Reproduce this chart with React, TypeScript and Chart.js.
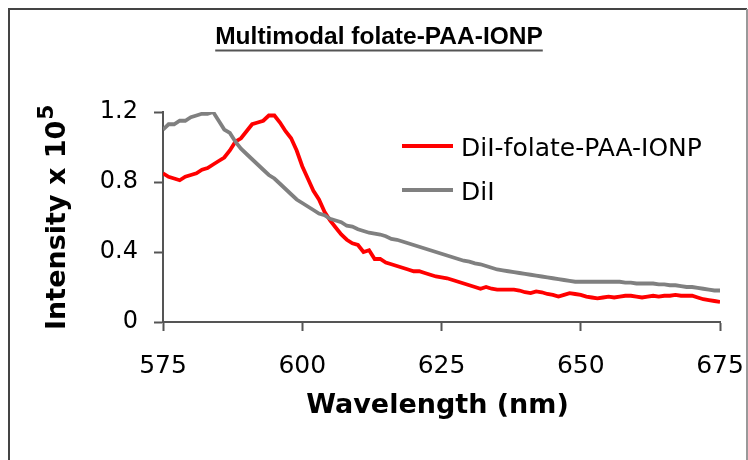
import React, { useEffect, useRef } from 'react';
import { Chart, registerables } from 'chart.js';

Chart.register(...registerables);

const chartTitle = 'Multimodal folate-PAA-IONP';
const xAxisTitle = 'Wavelength (nm)';
const yAxisTitleMain = 'Intensity x 10';
const yAxisTitleSup = '5';
const seriesNames = ['DiI-folate-PAA-IONP', 'DiI'];
const seriesColors = ['#ff0000', '#808080'];

const xTickValues = [575, 600, 625, 650, 675];
const yTickValues = [0, 0.4, 0.8, 1.2];

const wavelength = [
  575, 576, 577, 578, 579, 580, 581, 582, 583, 584,
  585, 586, 587, 588, 589, 590, 591, 592, 593, 594,
  595, 596, 597, 598, 599, 600, 601, 602, 603, 604,
  605, 606, 607, 608, 609, 610, 611, 612, 613, 614,
  615, 616, 617, 618, 619, 620, 621, 622, 623, 624,
  625, 626, 627, 628, 629, 630, 631, 632, 633, 634,
  635, 636, 637, 638, 639, 640, 641, 642, 643, 644,
  645, 646, 647, 648, 649, 650, 651, 652, 653, 654,
  655, 656, 657, 658, 659, 660, 661, 662, 663, 664,
  665, 666, 667, 668, 669, 670, 671, 672, 673, 674,
  675,
];

const dilFolatePaaIonp = [
  0.85, 0.83, 0.82, 0.81, 0.83, 0.84, 0.85, 0.87, 0.88, 0.90,
  0.92, 0.94, 0.98, 1.03, 1.05, 1.09, 1.13, 1.14, 1.15, 1.18,
  1.18, 1.14, 1.09, 1.05, 0.98, 0.89, 0.82, 0.75, 0.70, 0.63,
  0.58, 0.54, 0.50, 0.47, 0.45, 0.44, 0.40, 0.41, 0.36, 0.36,
  0.34, 0.33, 0.32, 0.31, 0.30, 0.29, 0.29, 0.28, 0.27, 0.26,
  0.255, 0.25, 0.24, 0.23, 0.22, 0.21, 0.20, 0.19, 0.20, 0.19,
  0.185, 0.185, 0.185, 0.185, 0.18, 0.17, 0.165, 0.175, 0.17, 0.16,
  0.155, 0.145, 0.155, 0.165, 0.16, 0.155, 0.145, 0.14, 0.135, 0.14,
  0.145, 0.14, 0.145, 0.15, 0.15, 0.145, 0.14, 0.145, 0.15, 0.145,
  0.15, 0.15, 0.155, 0.15, 0.15, 0.15, 0.14, 0.13, 0.125, 0.12,
  0.115,
];

const dil = [
  1.10, 1.13, 1.13, 1.15, 1.15, 1.17, 1.18, 1.19, 1.19, 1.20,
  1.15, 1.10, 1.08, 1.03, 0.99, 0.96, 0.93, 0.90, 0.87, 0.84,
  0.82, 0.79, 0.76, 0.73, 0.70, 0.68, 0.66, 0.64, 0.62, 0.61,
  0.59, 0.58, 0.57, 0.55, 0.545, 0.53, 0.52, 0.51, 0.505, 0.50,
  0.49, 0.475, 0.47, 0.46, 0.45, 0.44, 0.43, 0.42, 0.41, 0.40,
  0.39, 0.38, 0.37, 0.36, 0.35, 0.345, 0.335, 0.33, 0.32, 0.31,
  0.30, 0.295, 0.29, 0.285, 0.28, 0.275, 0.27, 0.265, 0.26, 0.255,
  0.25, 0.245, 0.24, 0.235, 0.23, 0.23, 0.23, 0.23, 0.23, 0.23,
  0.23, 0.23, 0.23, 0.225, 0.225, 0.22, 0.22, 0.22, 0.22, 0.215,
  0.215, 0.21, 0.21, 0.205, 0.20, 0.20, 0.195, 0.19, 0.185, 0.18,
  0.18,
];

const decorPlugin = {
  id: 'decor',
  afterDraw(chart: any) {
    const ctx = chart.ctx as CanvasRenderingContext2D;
    const area = chart.chartArea;
    ctx.save();

    // outer frame
    ctx.lineWidth = 2;
    ctx.strokeStyle = '#444';
    ctx.beginPath();
    ctx.moveTo(9, 470);
    ctx.lineTo(9, 9);
    ctx.lineTo(747, 9);
    ctx.stroke();
    ctx.strokeStyle = '#999';
    ctx.beginPath();
    ctx.moveTo(747, 9);
    ctx.lineTo(747, 470);
    ctx.stroke();

    // title with underline
    ctx.fillStyle = '#000';
    ctx.font = 'bold 24.5px "Liberation Sans", Arial, sans-serif';
    ctx.textAlign = 'center';
    ctx.textBaseline = 'alphabetic';
    const tx = 379;
    ctx.fillText(chartTitle, tx, 44);
    const tw = ctx.measureText(chartTitle).width;
    ctx.strokeStyle = '#555';
    ctx.lineWidth = 2;
    ctx.beginPath();
    ctx.moveTo(tx - tw / 2, 50.5);
    ctx.lineTo(tx + tw / 2, 50.5);
    ctx.stroke();

    // x axis title
    ctx.font = 'bold 27px "DejaVu Sans", sans-serif';
    ctx.fillText(xAxisTitle, (area.left + area.right) / 2 - 4, 413);

    // y axis title (rotated, with superscript)
    ctx.save();
    ctx.translate(65, 330);
    ctx.rotate(-Math.PI / 2);
    ctx.textAlign = 'left';
    ctx.font = 'bold 27px "DejaVu Sans", sans-serif';
    ctx.fillText(yAxisTitleMain, 0, 0);
    const mw = ctx.measureText(yAxisTitleMain).width;
    ctx.font = 'bold 22px "DejaVu Sans", sans-serif';
    ctx.fillText(yAxisTitleSup, mw + 1, -12);
    ctx.restore();

    // legend
    const rows = [146, 190];
    ctx.textAlign = 'left';
    ctx.font = '25px "DejaVu Sans", sans-serif';
    chart.data.datasets.forEach((ds: any, i: number) => {
      const y = rows[i];
      ctx.strokeStyle = ds.borderColor;
      ctx.lineWidth = 4;
      ctx.lineCap = 'butt';
      ctx.beginPath();
      ctx.moveTo(402, y);
      ctx.lineTo(453, y);
      ctx.stroke();
      ctx.fillStyle = '#000';
      ctx.fillText(ds.label, 461, y + 10);
    });

    ctx.restore();
  },
};

export default function App() {
  const ref = useRef<HTMLCanvasElement | null>(null);

  useEffect(() => {
    if (!ref.current) return;
    const toPoints = (vals: number[]) => wavelength.map((w, i) => ({ x: w, y: vals[i] }));
    const axisColor = '#555';
    const chart = new Chart(ref.current, {
      type: 'line',
      data: {
        datasets: [
          {
            label: seriesNames[0],
            data: toPoints(dilFolatePaaIonp),
            borderColor: seriesColors[0],
            backgroundColor: seriesColors[0],
            borderWidth: 3.8,
            pointRadius: 0,
            tension: 0,
            order: 2,
          },
          {
            label: seriesNames[1],
            data: toPoints(dil),
            borderColor: seriesColors[1],
            backgroundColor: seriesColors[1],
            borderWidth: 3.8,
            pointRadius: 0,
            tension: 0,
            order: 1,
          },
        ],
      },
      options: {
        responsive: false,
        animation: false,
        layout: { padding: { left: 0, right: 28, top: 112, bottom: 0 } },
        plugins: {
          legend: { display: false },
          title: { display: false },
          tooltip: { enabled: false },
        },
        scales: {
          x: {
            type: 'linear',
            min: 575,
            max: 675,
            afterBuildTicks: (s: any) => {
              s.ticks = xTickValues.map((v) => ({ value: v }));
            },
            afterFit: (s: any) => {
              s.height = 138;
              s.paddingLeft = 0;
              s.paddingRight = 0;
            },
            grid: {
              display: true,
              drawOnChartArea: false,
              drawTicks: true,
              tickLength: 9,
              tickColor: axisColor,
              tickWidth: 2,
            },
            border: { display: true, color: axisColor, width: 2 },
            ticks: {
              color: '#000',
              font: { family: '"DejaVu Sans", sans-serif', size: 25 },
              padding: 20,
              maxRotation: 0,
              autoSkip: false,
              callback: (v: any) => String(v),
            },
          },
          y: {
            type: 'linear',
            min: 0,
            max: 1.2,
            afterBuildTicks: (s: any) => {
              s.ticks = yTickValues.map((v) => ({ value: v }));
            },
            afterFit: (s: any) => {
              s.width = 163;
              s.paddingTop = 0;
              s.paddingBottom = 0;
            },
            grid: {
              display: true,
              drawOnChartArea: false,
              drawTicks: true,
              tickLength: 9,
              tickColor: axisColor,
              tickWidth: 2,
            },
            border: { display: true, color: axisColor, width: 2 },
            ticks: {
              color: '#000',
              font: { family: '"DejaVu Sans", sans-serif', size: 24 },
              padding: 16,
              autoSkip: false,
              callback: (v: any) => String(Math.round(v * 10) / 10),
            },
          },
        },
      },
      plugins: [decorPlugin],
    });
    return () => chart.destroy();
  }, []);

  return (
    <div style={{ position: 'absolute', left: 0, top: 0, width: 748, height: 460, background: '#fff' }}>
      <canvas ref={ref} width={748} height={460} style={{ display: 'block' }} />
    </div>
  );
}
